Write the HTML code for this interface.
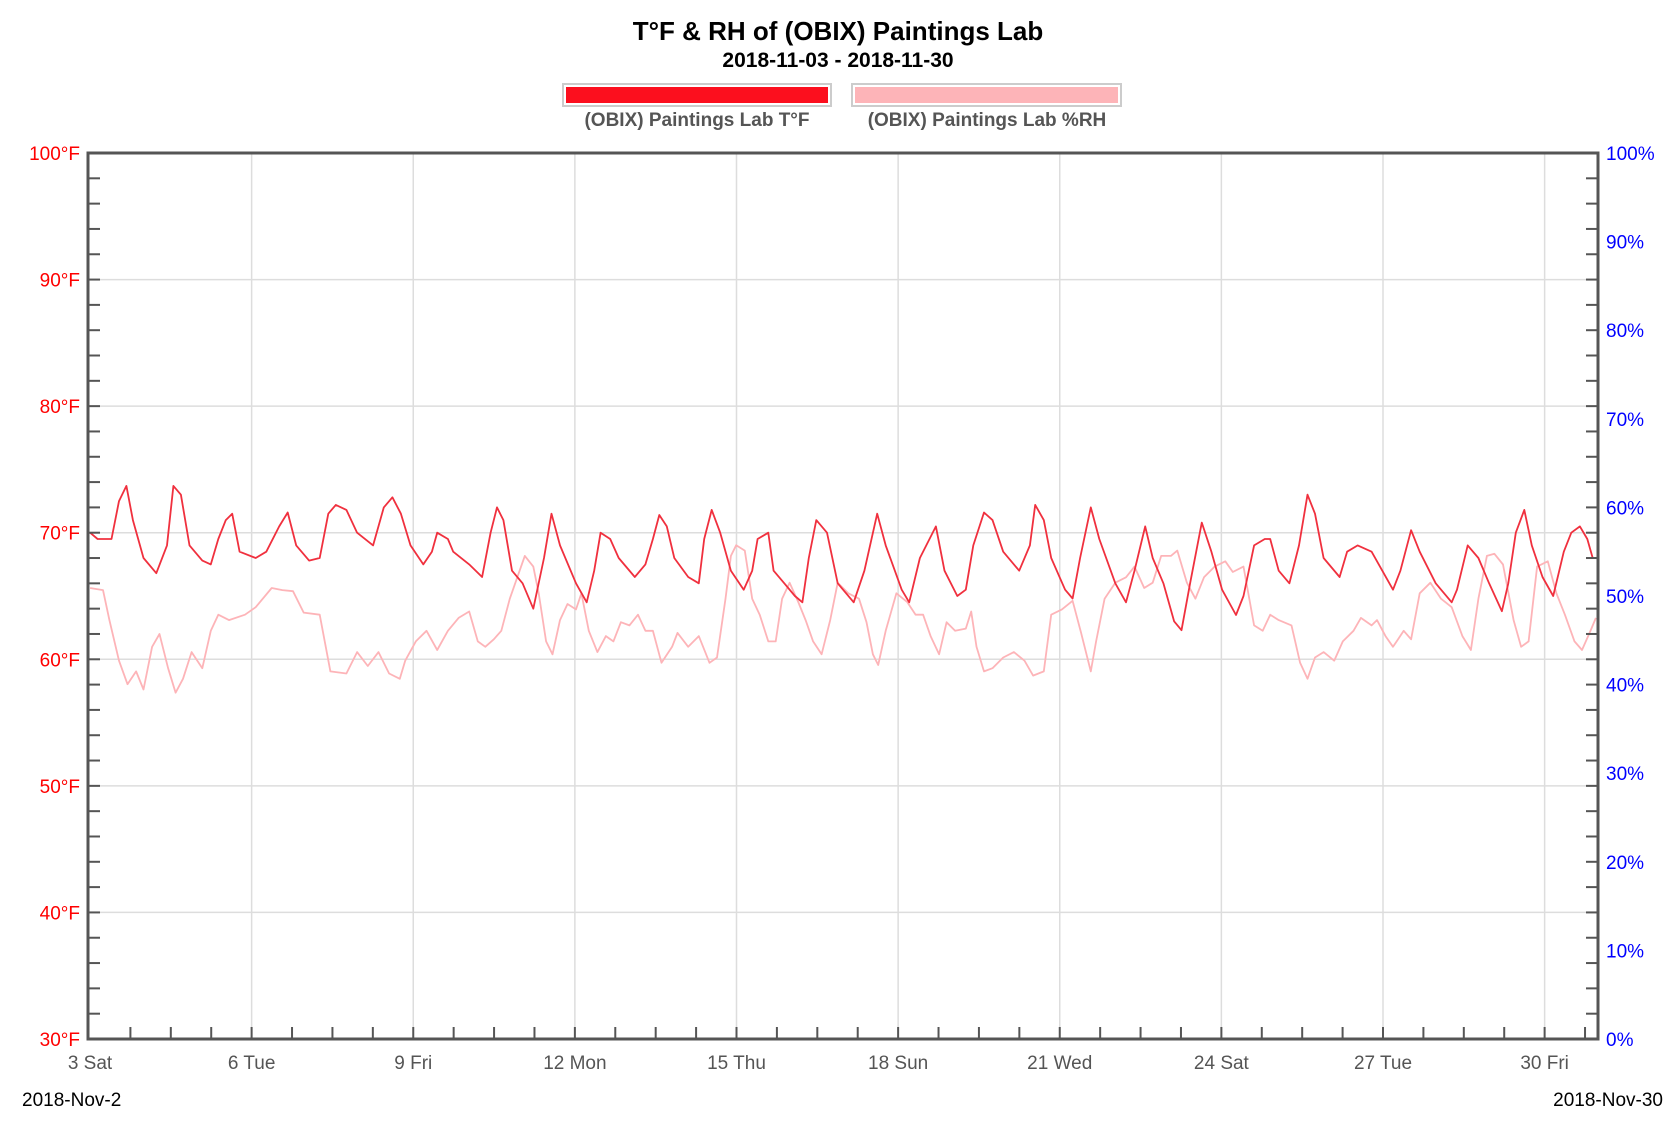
<!DOCTYPE html>
<html><head><meta charset="utf-8"><style>
html,body{margin:0;padding:0;background:#fff;}
svg text{font-family:"Liberation Sans","DejaVu Sans",sans-serif;}
</style></head><body>
<svg id="c" width="1674" height="1116" xmlns="http://www.w3.org/2000/svg">
<rect width="1674" height="1116" fill="#fff"/>
<text x="838" y="40" text-anchor="middle" font-size="26" font-weight="bold" fill="#000">T°F &amp; RH of (OBIX) Paintings Lab</text>
<text x="838" y="67" text-anchor="middle" font-size="21" font-weight="bold" fill="#000">2018-11-03 - 2018-11-30</text>
<rect x="563" y="84" width="268" height="22" fill="#fff" stroke="#ccc" stroke-width="2"/>
<rect x="566" y="87" width="262" height="16" fill="#fc0f1e"/>
<rect x="852" y="84" width="269" height="22" fill="#fff" stroke="#ccc" stroke-width="2"/>
<rect x="855" y="87" width="263" height="16" fill="#fdb4b8"/>
<text x="697" y="126" text-anchor="middle" font-size="19" font-weight="bold" fill="#555">(OBIX) Paintings Lab T°F</text>
<text x="987" y="126" text-anchor="middle" font-size="19" font-weight="bold" fill="#555">(OBIX) Paintings Lab %RH</text>
<g id="grid"></g>
<g id="series"></g>
<g id="axes"></g>
<text x="22" y="1106" font-size="19" fill="#000">2018-Nov-2</text>
<text x="1663" y="1106" text-anchor="end" font-size="19" fill="#000">2018-Nov-30</text>
</svg>
<script>
var L=88,R=1598,T=153,B=1039;
var ns="http://www.w3.org/2000/svg";
function el(p,n,a,t){var e=document.createElementNS(ns,n);for(var k in a)e.setAttribute(k,a[k]);if(t)e.textContent=t;document.getElementById(p).appendChild(e);return e;}
function yT(t){return B-(t-30)*(B-T)/70;}
function xd(d){return 90+(d-3)*53.875;}
// grid
for(var t=40;t<100;t+=10)el("grid","line",{x1:L,x2:R,y1:yT(t),y2:yT(t),stroke:"#ddd","stroke-width":1.5});
var days=["3 Sat","6 Tue","9 Fri","12 Mon","15 Thu","18 Sun","21 Wed","24 Sat","27 Tue","30 Fri"];
for(var i=0;i<10;i++){var x=xd(3+3*i);if(i>0)el("grid","line",{x1:x,x2:x,y1:T,y2:B,stroke:"#ddd","stroke-width":1.5});
el("axes","text",{x:x,y:1069,"text-anchor":"middle","font-size":19,fill:"#555"},days[i]);}
// axes
el("axes","rect",{x:L,y:T,width:R-L,height:B-T,fill:"none",stroke:"#555","stroke-width":3});
for(var t=32;t<100;t+=2){var y=yT(t);el("axes","line",{x1:L,x2:L+12,y1:y,y2:y,stroke:"#555","stroke-width":2});el("axes","line",{x1:R-12,x2:R,y1:y,y2:y,stroke:"#555","stroke-width":2});}
for(var t=30;t<=100;t+=10)el("axes","text",{x:80,y:yT(t)+7,"text-anchor":"end","font-size":19,fill:"#f00"},t+"°F");
for(var p=0;p<=100;p+=10)el("axes","text",{x:1606,y:B-p*(B-T)/100+7,"font-size":19,fill:"#00f"},p+"%");
for(var d=3.75;xd(d)<R-5;d+=0.75){var x=xd(d);el("axes","line",{x1:x,x2:x,y1:B-12,y2:B,stroke:"#555","stroke-width":2});}
// data
function sx(x){return 88+(x-83)*1.0679;}
function sy(y){return 153+(y-143)*1.0688;}
var tp=[85,70,92,69.5,105,69.5,112,72.5,119,73.7,125,71,135,68,147,66.8,157,69,163,73.7,170,73,178,69,190,67.8,198,67.5,205,69.5,212,71,218,71.5,225,68.5,240,68,250,68.5,262,70.5,270,71.6,278,69,290,67.8,300,68,308,71.5,315,72.2,325,71.8,335,70,350,69,360,72,368,72.8,376,71.5,385,69,397,67.5,405,68.5,410,70,420,69.5,425,68.5,440,67.5,452,66.5,460,70,466,72,472,71,480,67,490,66,500,64,510,68,517,71.5,525,69,540,66,550,64.5,557,67,563,70,572,69.5,580,68,595,66.5,605,67.5,612,69.5,618,71.4,625,70.5,632,68,645,66.5,655,66,660,69.5,667,71.8,675,70,685,67,697,65.5,705,67,710,69.5,720,70,725,67,735,66,745,65,752,64.5,758,68,765,71,775,70,785,66,800,64.5,810,67,822,71.5,830,69,845,65.5,852,64.5,862,68,877,70.5,885,67,897,65,905,65.5,912,69,922,71.6,930,71,940,68.5,955,67,965,69,970,72.2,978,71,985,68,998,65.5,1005,64.8,1012,68,1022,72,1030,69.5,1045,66,1055,64.5,1063,67,1073,70.5,1080,68,1090,66,1100,63,1107,62.3,1115,66,1126,70.8,1135,68.5,1145,65.5,1158,63.5,1165,65,1175,69,1185,69.5,1190,69.5,1198,67,1208,66,1217,69,1225,73,1232,71.5,1240,68,1255,66.5,1262,68.5,1272,69,1285,68.5,1295,67,1305,65.5,1312,67,1322,70.2,1330,68.5,1345,66,1360,64.5,1365,65.5,1375,69,1385,68,1395,66,1407,63.8,1413,66,1420,70,1428,71.8,1435,69,1445,66.5,1455,65,1465,68.5,1472,70,1480,70.5,1487,69.5,1492,68];
var rh=[85,550,97,552,103,580,112,618,120,640,128,628,135,645,143,605,150,593,158,625,165,648,172,635,180,610,190,625,198,590,205,575,215,580,230,575,240,568,255,550,265,552,275,553,285,573,300,575,310,628,325,630,335,610,345,623,355,610,365,630,375,635,380,618,390,600,400,590,410,608,420,590,430,578,440,572,448,600,455,605,463,598,470,590,478,560,485,540,492,520,500,530,505,555,512,600,518,612,525,580,532,565,540,570,545,555,552,590,560,610,568,595,575,600,582,582,590,585,598,575,605,590,612,590,620,620,630,605,635,592,645,605,655,595,665,620,672,615,680,560,685,520,690,510,698,515,705,560,712,575,720,600,727,600,733,560,740,545,748,563,755,580,762,600,770,612,778,580,785,545,795,555,805,560,812,582,818,612,823,622,830,590,840,555,850,563,858,575,865,575,872,595,880,612,887,582,895,590,905,588,910,572,915,605,922,628,930,625,940,615,950,610,960,618,968,632,978,628,985,575,995,570,1005,562,1013,592,1022,628,1027,600,1035,560,1045,545,1055,540,1063,530,1072,550,1080,545,1088,520,1097,520,1103,515,1112,545,1120,560,1128,540,1138,530,1148,525,1155,535,1165,530,1175,585,1183,590,1190,575,1198,580,1210,585,1218,620,1225,635,1232,615,1240,610,1250,618,1258,600,1268,590,1275,578,1285,585,1290,580,1298,595,1305,605,1315,590,1322,598,1330,555,1340,545,1350,560,1360,568,1370,595,1378,608,1385,560,1393,520,1400,518,1408,528,1418,580,1425,605,1432,600,1440,530,1450,525,1458,555,1466,575,1475,600,1482,608,1490,590,1495,578];
var s="";for(var i=0;i<rh.length;i+=2)s+=sx(rh[i]).toFixed(1)+","+sy(rh[i+1]).toFixed(1)+" ";
el("series","polyline",{points:s,fill:"none",stroke:"#fdb4b8","stroke-width":1.8,"stroke-linejoin":"round"});
s="";for(var i=0;i<tp.length;i+=2)s+=sx(tp[i]).toFixed(1)+","+yT(tp[i+1]).toFixed(1)+" ";
el("series","polyline",{points:s,fill:"none",stroke:"#f0303e","stroke-width":1.8,"stroke-linejoin":"round"});
</script>
</body></html>
